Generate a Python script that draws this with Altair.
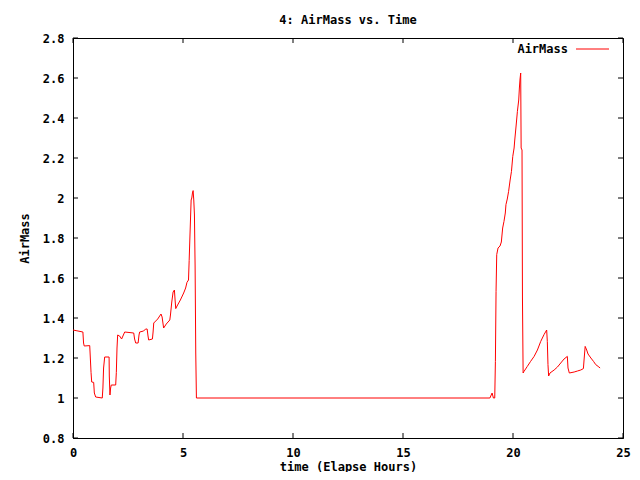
import altair as alt
import pandas as pd

# ---- data ----
hours = [
    0.00, 0.18, 0.45, 0.48, 0.51, 0.76, 0.82, 0.85, 0.94, 0.97, 1.03, 1.33,
    1.36, 1.39, 1.44, 1.64, 1.65, 1.68, 1.71, 1.74, 1.94, 1.97, 2.00, 2.03,
    2.12, 2.21, 2.27, 2.35, 2.76, 2.80, 2.85, 2.96, 3.00, 3.03, 3.21, 3.30,
    3.37, 3.41, 3.44, 3.61, 3.64, 3.67, 3.76, 3.85, 3.94, 4.00, 4.05, 4.12,
    4.15, 4.24, 4.40, 4.43, 4.49, 4.55, 4.61, 4.64, 4.67, 4.73, 4.88, 5.03,
    5.12, 5.18, 5.25, 5.28, 5.31, 5.34, 5.37, 5.40, 5.43, 5.46, 5.49, 5.52,
    5.55, 5.58, 5.61,
    18.95, 19.05, 19.11, 19.17, 19.20, 19.23, 19.26, 19.32, 19.41, 19.47,
    19.53, 19.59, 19.65, 19.68, 19.74, 19.80, 19.87, 19.93, 19.99, 20.05,
    20.08, 20.14, 20.20, 20.26, 20.29, 20.32, 20.35, 20.37, 20.41, 20.43,
    20.46, 20.50, 20.65, 20.80, 20.96, 21.11, 21.26, 21.41, 21.53, 21.56,
    21.59, 21.62, 21.68, 21.87, 22.02, 22.17, 22.32, 22.47, 22.50, 22.56,
    22.78, 22.93, 23.08, 23.20, 23.23, 23.28, 23.35, 23.41, 23.54, 23.66,
    23.76, 23.87, 23.96,
]
airmass = [
    1.340, 1.336, 1.330, 1.275, 1.260, 1.262, 1.128, 1.080, 1.078, 1.025, 1.005, 1.000,
    1.050, 1.150, 1.205, 1.205, 1.110, 1.015, 1.050, 1.065, 1.065, 1.128, 1.250, 1.315,
    1.310, 1.295, 1.310, 1.330, 1.325, 1.295, 1.275, 1.275, 1.315, 1.330, 1.335, 1.345,
    1.345, 1.310, 1.290, 1.295, 1.330, 1.375, 1.385, 1.395, 1.410, 1.420, 1.405, 1.350,
    1.355, 1.370, 1.390, 1.415, 1.480, 1.530, 1.540, 1.490, 1.447, 1.460, 1.490, 1.525,
    1.550, 1.578, 1.590, 1.688, 1.790, 1.890, 1.990, 2.000, 2.025, 2.037, 1.990, 1.915,
    1.660, 1.225, 1.000,
    1.000, 1.025, 1.000, 1.000, 1.183, 1.533, 1.717, 1.750, 1.760, 1.780,
    1.850, 1.883, 1.925, 1.967, 1.995, 2.033, 2.090, 2.133, 2.208, 2.250,
    2.290, 2.360, 2.433, 2.490, 2.550, 2.595, 2.625, 2.250, 2.240, 1.500,
    1.125, 1.133, 1.158, 1.183, 1.208, 1.240, 1.283, 1.317, 1.340, 1.283,
    1.167, 1.110, 1.125, 1.140, 1.155, 1.175, 1.195, 1.208, 1.150, 1.125,
    1.130, 1.135, 1.140, 1.147, 1.190, 1.258, 1.240, 1.220, 1.200, 1.183,
    1.167, 1.158, 1.150,
]
series_name = "AirMass"
x_ticks = [0, 5, 10, 15, 20, 25]
y_ticks = [0.8, 1.0, 1.2, 1.4, 1.6, 1.8, 2.0, 2.2, 2.4, 2.6, 2.8]

FONT = "DejaVu Sans Mono"
FS = 12
FW = "bold"
W, H = 550, 400
RED = "#ff0000"

df = pd.DataFrame({"time": hours, "AirMass": airmass})
xt = pd.DataFrame({"time": x_ticks})
yt = pd.DataFrame({"AirMass": y_ticks})
leg = pd.DataFrame({"s": [series_name]})

xs = alt.Scale(domain=[0, 25], nice=False, zero=False)
ys = alt.Scale(domain=[0.8, 2.8], nice=False, zero=False)

x_axis = alt.Axis(
    values=x_ticks, title="time (Elapse Hours)", grid=False, ticks=False, tickSize=0,
    labelPadding=14, labelBaseline="middle", labelFont=FONT, labelFontSize=FS,
    labelFontWeight=FW, labelColor="black", domainColor="black", titleFont=FONT,
    titleFontSize=FS, titleFontWeight=FW, titleColor="black", titleY=28,
    titleBaseline="middle", labelFlush=False, labelOverlap=False)
y_axis = alt.Axis(
    values=y_ticks, format="~g", title="AirMass", grid=False, ticks=False, tickSize=0,
    labelPadding=9, labelBaseline="middle", labelFont=FONT, labelFontSize=FS,
    labelFontWeight=FW, labelColor="black", domainColor="black", titleFont=FONT,
    titleFontSize=FS, titleFontWeight=FW, titleColor="black", titleX=-49, titleY=200,
    titleAngle=270, titleBaseline="middle", titleAlign="center",
    labelFlush=False, labelOverlap=False)

X = alt.X("time:Q", scale=xs, axis=x_axis)
Y = alt.Y("AirMass:Q", scale=ys, axis=y_axis)

line = alt.Chart(df).mark_line(strokeWidth=1, clip=True, color=RED).encode(x=X, y=Y)

tick_bottom = alt.Chart(xt).mark_rule(color="black", strokeWidth=1).encode(
    x=X, y=alt.value(H), y2=alt.value(H - 5))
tick_top = alt.Chart(xt).mark_rule(color="black", strokeWidth=1).encode(
    x=X, y=alt.value(0), y2=alt.value(5))
tick_left = alt.Chart(yt).mark_rule(color="black", strokeWidth=1).encode(
    y=Y, x=alt.value(0), x2=alt.value(5))
tick_right = alt.Chart(yt).mark_rule(color="black", strokeWidth=1).encode(
    y=Y, x=alt.value(W), x2=alt.value(W - 5))

# gnuplot-style key: label then line sample, top-right inside the frame
leg_text = alt.Chart(leg).mark_text(
    align="right", baseline="middle", font=FONT, fontSize=FS, fontWeight=FW,
    color="black").encode(text="s:N", x=alt.value(495), y=alt.value(11))
leg_line = alt.Chart(leg).mark_rule(color=RED, strokeWidth=1).encode(
    x=alt.value(503), x2=alt.value(536), y=alt.value(11))

chart = alt.layer(line, tick_bottom, tick_top, tick_left, tick_right, leg_text, leg_line).properties(
    width=W, height=H,
    title=alt.TitleParams("4: AirMass vs. Time", font=FONT, fontSize=FS, fontWeight=FW,
                          color="black", anchor="middle", baseline="middle", offset=0),
    autosize=alt.AutoSizeParams(type="none"),
    padding={"left": 65, "top": 30, "right": 9, "bottom": 34},
    background="white",
).configure_view(stroke="black", strokeWidth=1)

chart.save("out.html", embed_options={"renderer": "svg", "actions": False})
